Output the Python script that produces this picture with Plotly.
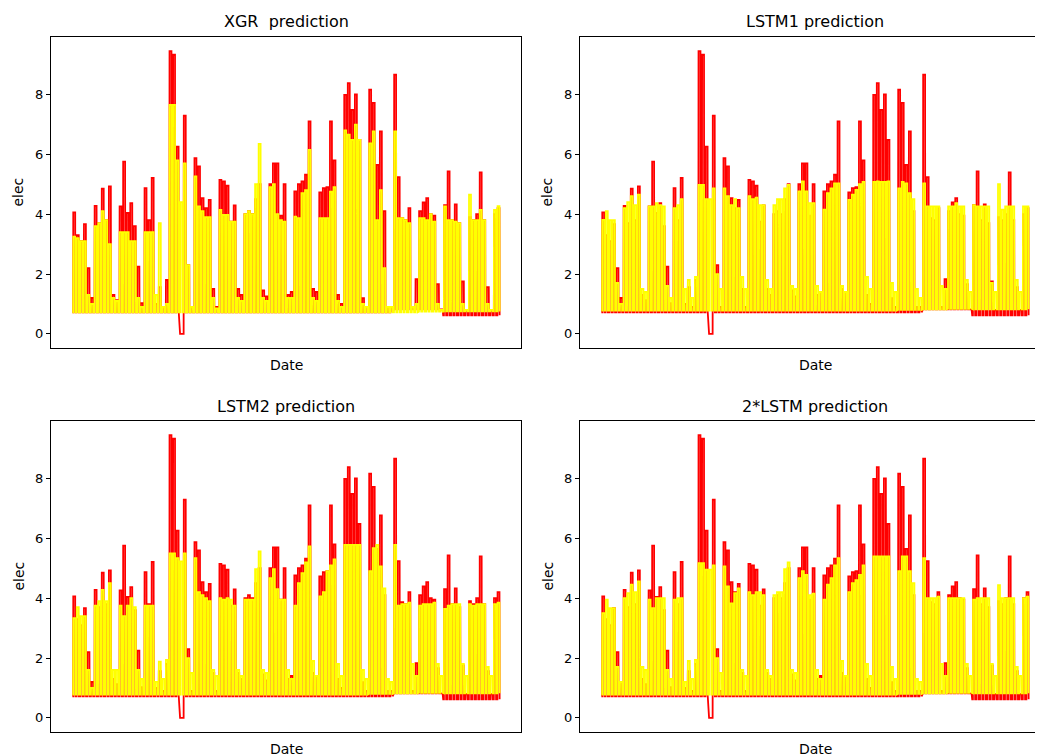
import plotly.graph_objects as go

# ---------------- data (daily peak values) ----------------
# 120 days: week 1 has 6 days (Tue..Sun), weeks 2-17 have 7 days (Mon..Sun), week 18 has 2 days
actual_peak = [
    4.06, 3.30, 3.10, 3.67, 2.20, 1.20,
    4.28, 3.70, 4.85, 3.80, 4.93, 1.30, 1.13,
    4.26, 5.76, 4.04, 4.37, 3.60, 2.25, 1.03,
    4.87, 3.80, 5.21, 1.00, 1.56, 0.90, 1.80,
    9.45, 9.33, 6.26, 0.00, 7.29, 2.30, 0.90,
    5.87, 5.60, 4.54, 4.20, 4.48, 1.50, 0.90,
    5.15, 5.10, 4.95, 3.75, 4.29, 1.50, 1.30,
    4.00, 4.10, 4.00, 4.50, 5.00, 1.45, 1.25,
    5.00, 5.70, 5.70, 3.95, 5.00, 1.30, 1.40,
    4.76, 5.00, 5.10, 5.32, 7.10, 1.50, 1.40,
    4.73, 4.87, 4.90, 7.10, 5.80, 1.30, 1.00,
    7.99, 8.38, 7.49, 8.00, 6.48, 1.19, 0.90,
    8.16, 7.72, 5.65, 6.77, 4.10, 0.90, 0.90,
    8.66, 5.24, 3.87, 3.80, 4.20, 0.90, 1.83,
    4.10, 4.39, 4.54, 4.00, 3.95, 1.66, 0.80,
    4.30, 5.43, 3.80, 4.33, 3.70, 1.75, 0.80,
    3.90, 3.80, 4.00, 5.40, 3.80, 1.56, 0.80,
    4.00, 4.20,
]
xgr_peak = [
    3.25, 3.20, 3.10, 3.10, 1.30, 1.00,
    3.60, 3.70, 4.10, 3.80, 3.00, 1.20, 1.10,
    3.40, 3.40, 3.40, 3.10, 3.10, 1.20, 0.90,
    3.40, 3.40, 3.40, 1.30, 3.70, 0.90, 1.00,
    7.65, 7.65, 5.80, 4.40, 5.70, 2.30, 0.90,
    5.26, 4.26, 4.10, 3.90, 3.90, 1.20, 0.85,
    4.14, 3.98, 3.98, 3.75, 3.75, 1.20, 1.10,
    4.00, 4.10, 4.00, 5.00, 6.35, 1.20, 1.10,
    4.90, 5.00, 4.00, 3.80, 3.75, 1.20, 1.20,
    3.92, 3.87, 4.70, 4.80, 6.15, 1.20, 1.10,
    3.87, 3.87, 3.87, 4.75, 4.90, 1.10, 0.90,
    6.80, 6.66, 6.48, 6.99, 6.48, 1.00, 0.90,
    6.37, 6.77, 3.80, 4.80, 2.20, 0.90, 0.90,
    6.77, 3.87, 3.87, 3.80, 3.70, 0.90, 1.00,
    3.87, 3.87, 3.80, 4.00, 3.75, 1.00, 0.80,
    4.26, 3.80, 3.80, 3.75, 3.70, 1.00, 0.80,
    4.65, 3.80, 3.80, 4.14, 3.80, 1.00, 0.80,
    4.14, 4.27,
]
lstm1_peak = [
    3.81, 4.10, 3.80, 3.80, 1.70, 1.00,
    4.20, 4.40, 4.60, 4.30, 4.65, 1.50, 1.40,
    4.26, 4.26, 4.37, 4.30, 4.26, 1.60, 1.20,
    4.20, 4.30, 4.50, 1.50, 1.80, 1.20, 1.90,
    4.98, 4.98, 4.50, 4.50, 4.86, 2.00, 1.50,
    4.86, 4.60, 4.30, 4.50, 4.20, 1.90, 1.50,
    4.60, 4.50, 4.55, 4.30, 4.30, 1.80, 1.50,
    4.30, 4.50, 4.50, 4.86, 4.98, 1.60, 1.50,
    4.76, 5.10, 4.76, 4.37, 4.37, 1.60, 1.40,
    4.15, 4.70, 4.86, 5.03, 5.03, 1.60, 1.40,
    4.48, 4.65, 4.81, 5.00, 5.08, 1.90, 1.50,
    5.08, 5.10, 5.08, 5.08, 5.10, 1.70, 1.40,
    4.86, 5.08, 5.03, 4.70, 4.50, 1.50, 1.20,
    5.03, 4.26, 4.26, 4.26, 4.26, 1.60, 1.50,
    4.26, 4.26, 4.37, 4.26, 4.26, 1.80, 1.40,
    4.30, 4.26, 4.26, 4.26, 4.26, 1.70, 1.40,
    5.00, 4.15, 4.26, 4.26, 4.26, 1.80, 1.40,
    4.26, 4.26,
]
lstm2_peak = [
    3.33, 3.70, 3.40, 3.40, 1.60, 1.00,
    3.75, 3.90, 4.28, 3.90, 4.50, 1.60, 1.60,
    3.75, 3.40, 3.75, 4.00, 3.70, 1.60, 1.30,
    3.75, 3.75, 3.75, 1.20, 1.88, 1.30, 1.94,
    5.50, 5.50, 5.34, 5.23, 5.50, 2.00, 1.50,
    5.34, 4.20, 4.10, 4.00, 3.90, 1.60, 1.40,
    4.00, 3.95, 4.00, 3.95, 3.75, 1.60, 1.40,
    3.95, 3.95, 3.95, 4.97, 5.56, 1.60, 1.50,
    4.67, 4.97, 4.30, 3.95, 3.95, 1.60, 1.30,
    3.75, 4.50, 4.84, 5.20, 5.73, 1.90, 1.40,
    4.06, 4.20, 4.90, 5.10, 5.30, 1.80, 1.40,
    5.78, 5.78, 5.78, 5.78, 5.78, 1.60, 1.30,
    4.90, 5.67, 5.78, 5.06, 4.33, 1.30, 1.20,
    5.78, 3.75, 3.80, 3.80, 3.85, 1.80, 1.40,
    3.75, 3.80, 3.80, 3.80, 3.85, 1.80, 1.40,
    3.64, 3.75, 3.80, 3.80, 3.80, 1.80, 1.40,
    3.80, 3.75, 3.80, 3.80, 3.80, 1.70, 1.40,
    3.80, 3.85,
]
lstm2x_peak = [
    3.50, 3.95, 3.67, 3.67, 1.70, 1.20,
    4.00, 4.17, 4.45, 4.20, 4.56, 1.70, 1.60,
    3.95, 3.67, 4.00, 4.00, 4.00, 1.60, 1.30,
    3.95, 4.00, 4.00, 1.20, 1.90, 1.30, 1.94,
    5.17, 5.17, 4.95, 4.95, 5.10, 2.00, 1.50,
    5.06, 4.39, 3.83, 4.17, 4.33, 1.60, 1.40,
    4.20, 4.10, 4.20, 4.20, 4.10, 1.60, 1.40,
    4.10, 4.20, 4.20, 4.97, 5.20, 1.60, 1.50,
    4.67, 4.90, 4.78, 4.10, 4.15, 1.60, 1.30,
    3.95, 4.45, 4.67, 5.10, 5.34, 1.90, 1.40,
    4.20, 4.50, 4.60, 4.78, 5.10, 1.80, 1.40,
    5.40, 5.40, 5.40, 5.40, 5.40, 1.70, 1.30,
    4.90, 5.40, 5.40, 4.90, 4.50, 1.30, 1.20,
    5.34, 4.00, 4.00, 4.00, 4.05, 1.80, 1.40,
    4.00, 4.00, 4.00, 4.00, 4.00, 1.80, 1.40,
    3.95, 4.00, 4.00, 4.00, 4.00, 1.80, 1.40,
    4.44, 4.00, 4.00, 4.00, 4.00, 1.70, 1.40,
    4.00, 4.05,
]
# night-time (base) level per week, 18 weeks
actual_base_week = [0.72, 0.72, 0.72, 0.72, 0.72, 0.72, 0.72, 0.72, 0.72,
                    0.72, 0.72, 0.72, 0.72, 0.82, 0.82, 0.62, 0.62, 0.62]
xgr_base_week = [0.72, 0.72, 0.72, 0.72, 0.72, 0.72, 0.72, 0.72, 0.72,
                 0.72, 0.72, 0.72, 0.72, 0.72, 0.74, 0.75, 0.75, 0.75]
lstm_base_week = [0.78, 0.78, 0.78, 0.78, 0.78, 0.78, 0.78, 0.78, 0.78,
                  0.78, 0.78, 0.78, 0.80, 0.82, 0.84, 0.82, 0.82, 0.82]
# period (in days) where the meter read 0
OUTAGE_START, OUTAGE_END = 29.84, 31.21

titles = ["XGR\u00a0 prediction", "LSTM1 prediction", "LSTM2 prediction", "2*LSTM prediction"]
y_ticks = [0, 2, 4, 6, 8]


def week_of(k):
    return 0 if k < 6 else 1 + (k - 6) // 7


def expand(peaks, base_week, outage=None):
    xs, ys = [], []
    for k, p in enumerate(peaks):
        b = base_week[week_of(k)]
        for h, v in ((0, b), (5, b), (6, p), (19, p), (20, b)):
            x = k + h / 24
            if outage is not None and outage[0] <= x <= outage[1]:
                v = 0.0
            xs.append(x)
            ys.append(v)
    return xs, ys


# target pixel geometry of the picture; the page body adds an 8px offset
OFF = 8
PW, PH = 1043, 756
FW, FH = PW - OFF, PH - OFF
ax_x = [(51, 521), (580, 1050), (51, 521), (580, 1050)]
ax_y = [(37, 348), (37, 348), (421, 732), (421, 732)]


def px_x(p):
    return (p - OFF) / FW


def px_y(p):
    return 1 - (p - OFF) / FH


ax_act, ay_act = expand(actual_peak, actual_base_week, (OUTAGE_START, OUTAGE_END))
preds = [
    expand(xgr_peak, xgr_base_week),
    expand(lstm1_peak, lstm_base_week),
    expand(lstm2_peak, lstm_base_week),
    expand(lstm2x_peak, lstm_base_week),
]

fig = go.Figure()
xmin, xmax = min(ax_act), max(ax_act)
span = xmax - xmin
x0 = xmin - 0.05 * span
x1 = xmax + 0.05 * span
ymax = max(actual_peak)
y0, y1 = -0.05 * ymax, 1.05 * ymax

font = "DejaVu Sans, Arial, sans-serif"
annotations = []
for i in range(4):
    suf = "" if i == 0 else str(i + 1)
    xa, ya = "x" + suf, "y" + suf
    px, py = preds[i]
    fig.add_trace(go.Scatter(x=ax_act, y=ay_act, mode="lines", xaxis=xa, yaxis=ya,
                             line=dict(color="#ff0000", width=1.8), showlegend=False,
                             hoverinfo="skip"))
    fig.add_trace(go.Scatter(x=px, y=py, mode="lines", xaxis=xa, yaxis=ya,
                             line=dict(color="#ffff00", width=1.8), showlegend=False,
                             hoverinfo="skip"))
    l, r = ax_x[i]
    t, b = ax_y[i]
    rr = min(r, OFF + FW)
    xr1 = x0 + (x1 - x0) * (rr - l) / (r - l)
    clipped = r > OFF + FW
    fig.layout["xaxis" + suf] = dict(
        domain=[px_x(l), px_x(rr)], anchor=ya, range=[x0, xr1],
        showgrid=False, zeroline=False, showticklabels=False, ticks="",
        showline=True, linecolor="#000", linewidth=1, mirror=True,
    )
    fig.layout["yaxis" + suf] = dict(
        domain=[px_y(b), px_y(t)], anchor=xa, range=[y0, y1],
        showgrid=False, zeroline=False, tickvals=y_ticks, ticks="outside",
        ticklen=4, tickwidth=1, tickcolor="#000",
        tickfont=dict(family=font, size=13, color="#000"),
        showline=True, linecolor="#000", linewidth=1, mirror=not clipped,
    )
    cx = (l + r) / 2
    annotations.append(dict(text=titles[i], x=px_x(cx), y=px_y(t - 15), xref="paper", yref="paper",
                            showarrow=False, xanchor="center", yanchor="middle",
                            font=dict(family=font, size=16, color="#000")))
    annotations.append(dict(text="Date", x=px_x(cx), y=px_y(b + 17), xref="paper", yref="paper",
                            showarrow=False, xanchor="center", yanchor="middle",
                            font=dict(family=font, size=14, color="#000")))
    annotations.append(dict(text="elec", x=px_x(l - 33), y=px_y((t + b) / 2), xref="paper",
                            yref="paper", showarrow=False, xanchor="center", yanchor="middle",
                            textangle=-90, font=dict(family=font, size=14, color="#000")))

fig.update_layout(width=FW, height=FH, autosize=False, margin=dict(l=0, r=0, t=0, b=0),
                  paper_bgcolor="white", plot_bgcolor="white", annotations=annotations,
                  showlegend=False)
fig.write_html("out.html")
